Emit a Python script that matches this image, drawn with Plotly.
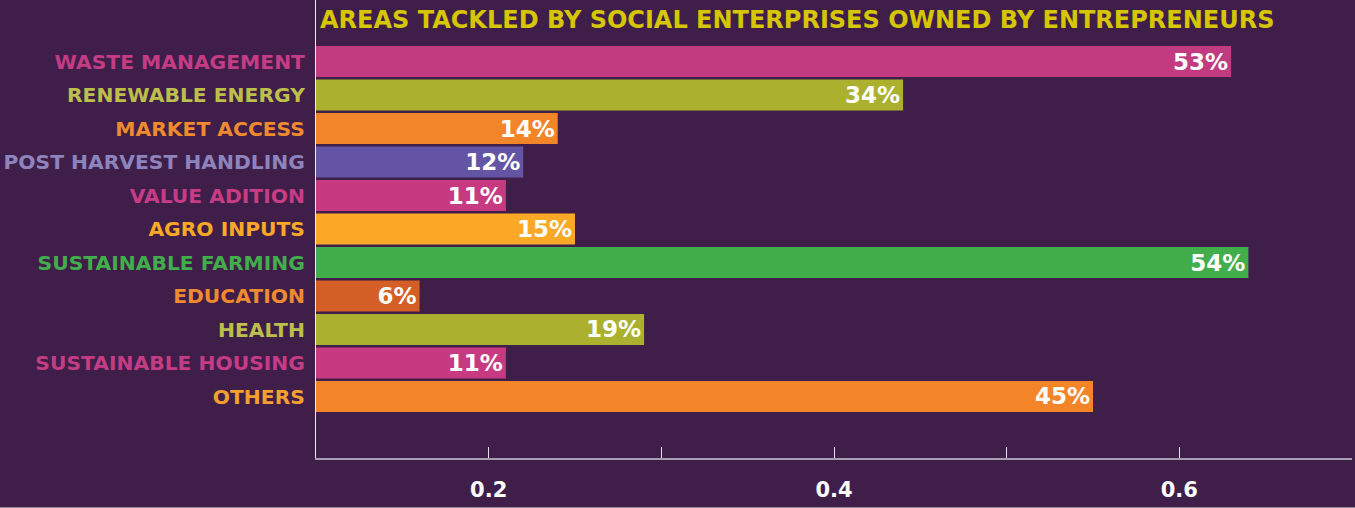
import plotly.graph_objects as go

categories = ["WASTE MANAGEMENT", "RENEWABLE ENERGY", "MARKET ACCESS", "POST HARVEST HANDLING",
              "VALUE ADITION", "AGRO INPUTS", "SUSTAINABLE FARMING", "EDUCATION", "HEALTH",
              "SUSTAINABLE HOUSING", "OTHERS"]
values = [0.53, 0.34, 0.14, 0.12, 0.11, 0.15, 0.54, 0.06, 0.19, 0.11, 0.45]
value_labels = ["53%", "34%", "14%", "12%", "11%", "15%", "54%", "6%", "19%", "11%", "45%"]
bar_colors = ["#C23A80", "#ABB02F", "#F28429", "#6354A4", "#C73A82", "#FBA826",
              "#41AD4B", "#D35F26", "#ABB02F", "#C73A82", "#F48428"]
label_colors = ["#C43C84", "#BCC04A", "#F08A2E", "#8E84BD", "#C73C84", "#FBA826",
                "#42AD4B", "#F08A2E", "#BCC04A", "#C43C84", "#F3A02E"]
x_tickvals = [0.1, 0.2, 0.3, 0.4, 0.5, 0.6, 0.7]
x_ticktext = ["", "0.2", "", "0.4", "", "0.6", ""]
axis_base = 0.1
title = "AREAS TACKLED BY SOCIAL ENTERPRISES OWNED BY ENTREPRENEURS"

BG = "#401E4A"
FONT = "DejaVu Sans"

fig = go.Figure()
fig.add_trace(go.Bar(
    y=categories, x=values, base=axis_base, orientation="h",
    marker=dict(color=bar_colors, line=dict(width=0)),
    width=0.925,
    text=value_labels, textposition="inside", insidetextanchor="end",
    textangle=0, constraintext="none",
    insidetextfont=dict(family=FONT, size=23, color="white", weight="bold"),
    hoverinfo="skip",
))

ticktext_y = [f'<span style="color:{c}">{t}</span>' for t, c in zip(categories, label_colors)]

fig.update_layout(
    width=1355, height=508,
    paper_bgcolor=BG, plot_bgcolor=BG,
    margin=dict(l=316, r=3, t=0, b=50),
    showlegend=False,
    xaxis=dict(
        range=[0.1, 0.7], tickvals=x_tickvals, ticktext=x_ticktext,
        showgrid=False, zeroline=False,
        showline=True, linecolor="#A99DB0", linewidth=2,
        ticks="inside", ticklen=11, tickwidth=1, tickcolor="#E8E0EA",
        tickfont=dict(family=FONT, size=21, color="white", weight="bold"),
        ticklabelstandoff=12,
    ),
    yaxis=dict(
        categoryorder="array", categoryarray=categories,
        tickvals=categories, ticktext=ticktext_y,
        range=[11.836, -1.836],
        showgrid=False, zeroline=False,
        showline=True, linecolor="#F0EAF2", linewidth=1,
        ticks="", ticklabelstandoff=6,
        tickfont=dict(family=FONT, size=20.3, weight="bold"),
    ),
    annotations=[dict(
        text=title, xref="paper", yref="paper", x=0, y=1,
        xanchor="left", yanchor="top", xshift=2, yshift=-4, showarrow=False,
        font=dict(family=FONT, size=24, color="#D6C600", weight="bold"),
    )],
    shapes=[dict(type="line", xref="paper", yref="paper",
                 x0=-316/1036, x1=1 + 3/1036, y0=-49.5/458, y1=-49.5/458,
                 line=dict(color="#9A8FA0", width=1))],
)

fig.write_html("out.html")
